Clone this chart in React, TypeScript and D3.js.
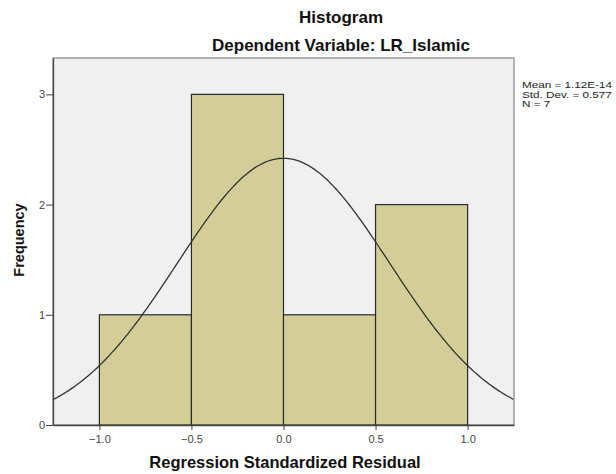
// @ts-nocheck
import React, { useEffect, useRef } from "react";
import * as d3 from "d3";

// histogram bins (lower edge, upper edge) and counts
const binStarts = [-1.0, -0.5, 0.0, 0.5];
const binEnds = [-0.5, 0.0, 0.5, 1.0];
const counts = [1, 3, 1, 2];
const xTicks = [-1.0, -0.5, 0.0, 0.5, 1.0];
const yTicks = [0, 1, 2, 3];
const statLines = ["Mean = 1.12E-14", "Std. Dev. = 0.577", "N = 7"];
const mean = 1.12e-14;
const stdDev = 0.577;
const n = 7;

const App = () => {
  const svgRef = useRef();

  useEffect(() => {
    const width = 616;
    const height = 474;
    const margin = { top: 58, right: 102, bottom: 49, left: 53 };
    const font = "Arial, 'Liberation Sans', sans-serif";

    const svg = d3.select(svgRef.current);
    svg.selectAll("*").remove();
    svg.attr("width", width).attr("height", height);

    const x = d3
      .scaleLinear()
      .domain([-1.252, 1.252])
      .range([margin.left, width - margin.right]);
    const y = d3
      .scaleLinear()
      .domain([0, 3.33])
      .range([height - margin.bottom, margin.top]);

    // plot background
    svg
      .append("rect")
      .attr("x", margin.left)
      .attr("y", margin.top)
      .attr("width", width - margin.left - margin.right)
      .attr("height", height - margin.top - margin.bottom)
      .attr("fill", "#f0f0f0")
      .attr("stroke", "#8c8c8c")
      .attr("stroke-width", 1.3);

    // bars
    const bins = binStarts.map((s, i) => ({ x0: s, x1: binEnds[i], count: counts[i] }));
    svg
      .append("g")
      .selectAll("rect")
      .data(bins)
      .enter()
      .append("rect")
      .attr("x", (d) => x(d.x0))
      .attr("y", (d) => y(d.count))
      .attr("width", (d) => x(d.x1) - x(d.x0))
      .attr("height", (d) => y(0) - y(d.count))
      .attr("fill", "#d3ce97")
      .attr("stroke", "#2a2a2a")
      .attr("stroke-width", 1.2);

    // normal curve
    const binWidth = 0.5;
    const pdf = (v) =>
      (n * binWidth * Math.exp(-((v - mean) ** 2) / (2 * stdDev * stdDev))) /
      (stdDev * Math.sqrt(2 * Math.PI));
    const pts = d3.range(-1.252, 1.2521, 0.01).map((v) => [v, pdf(v)]);
    svg
      .append("path")
      .datum(pts)
      .attr("fill", "none")
      .attr("stroke", "#333")
      .attr("stroke-width", 1.3)
      .attr(
        "d",
        d3
          .line()
          .x((d) => x(d[0]))
          .y((d) => y(d[1]))
          .curve(d3.curveBasis)
      );

    // axes
    const xAxis = svg
      .append("g")
      .attr("transform", `translate(0,${y(0)})`)
      .call(
        d3
          .axisBottom(x)
          .tickValues(xTicks)
          .tickFormat(d3.format(".1f"))
          .tickSize(5)
          .tickSizeOuter(0)
      );
    xAxis.select(".domain").attr("stroke", "#444").attr("stroke-width", 1.3);
    xAxis.selectAll(".tick line").attr("stroke", "#444");
    xAxis
      .selectAll("text")
      .attr("font-family", font)
      .attr("font-size", 11)
      .attr("fill", "#444")
      .attr("dy", "0.9em");

    const yAxis = svg
      .append("g")
      .attr("transform", `translate(${x(-1.252)},0)`)
      .call(
        d3
          .axisLeft(y)
          .tickValues(yTicks)
          .tickFormat(d3.format("d"))
          .tickSize(7)
          .tickSizeOuter(0)
      );
    yAxis.select(".domain").attr("stroke", "#444").attr("stroke-width", 1.3);
    yAxis.selectAll(".tick line").attr("stroke", "#444");
    yAxis
      .selectAll("text")
      .attr("font-family", font)
      .attr("font-size", 11)
      .attr("fill", "#444")
      .attr("x", -8);

    // titles
    svg
      .append("text")
      .attr("x", 341)
      .attr("y", 23)
      .attr("text-anchor", "middle")
      .attr("font-family", font)
      .attr("font-weight", "bold")
      .attr("font-size", 17)
      .attr("fill", "#111")
      .text("Histogram");
    svg
      .append("text")
      .attr("x", 341)
      .attr("y", 51)
      .attr("text-anchor", "middle")
      .attr("font-family", font)
      .attr("font-weight", "bold")
      .attr("font-size", 17)
      .attr("fill", "#111")
      .text("Dependent Variable: LR_Islamic");

    svg
      .append("text")
      .attr("x", 285)
      .attr("y", 468)
      .attr("text-anchor", "middle")
      .attr("font-family", font)
      .attr("font-weight", "bold")
      .attr("font-size", 16.5)
      .attr("fill", "#111")
      .text("Regression Standardized Residual");

    svg
      .append("text")
      .attr("transform", "translate(24,240) rotate(-90)")
      .attr("text-anchor", "middle")
      .attr("font-family", font)
      .attr("font-weight", "bold")
      .attr("font-size", 14.5)
      .attr("fill", "#111")
      .text("Frequency");

    // stats box
    svg
      .append("g")
      .selectAll("text")
      .data(statLines)
      .enter()
      .append("text")
      .attr("transform", (d, i) => `translate(522,${88 + i * 9.6}) scale(1.3,1)`)
      .attr("font-family", font)
      .attr("font-size", 9)
      .attr("fill", "#222")
      .text((d) => d);
  }, []);

  return <svg ref={svgRef} style={{ position: "absolute", left: 0, top: 0 }}></svg>;
};

export default App;
